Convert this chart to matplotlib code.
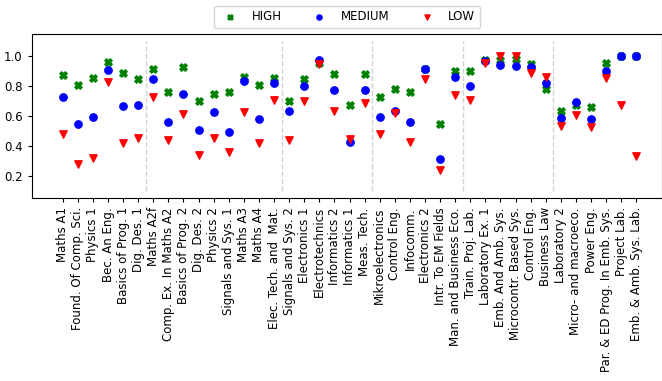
import matplotlib
matplotlib.use("Agg")
import matplotlib.pyplot as plt
import numpy as np

courses = ["Maths A1", "Found. Of Comp. Sci.", "Physics 1", "Bec. An Eng.", "Basics of Prog. 1",
           "Dig. Des. 1", "Maths A2f", "Comp. Ex. In Maths A2", "Basics of Prog. 2", "Dig. Des. 2",
           "Physics 2", "Signals and Sys. 1", "Maths A3", "Maths A4", "Elec. Tech. and  Mat.",
           "Signals and Sys. 2", "Electronics 1", "Electrotechnics", "Informatics 2", "Informatics 1",
           "Meas. Tech.", "Mikroelectronics", "Control Eng.", "Infocomm.", "Electronics 2",
           "Intr. To EM Fields", "Man. and Business Eco.", "Train. Proj. Lab.", "Laboratory Ex. 1",
           "Emb. And Amb. Sys.", "Microcontr. Based Sys.", "Control Eng.", "Business Law",
           "Laboratory 2", "Micro- and macroeco.", "Power Eng.", "Par. & ED Prog. In Emb. Sys.",
           "Project Lab.", "Emb. & Amb. Sys. Lab."]

high = [0.878, 0.805, 0.853, 0.963, 0.889, 0.847, 0.918, 0.758, 0.927, 0.698,
        0.749, 0.760, 0.862, 0.807, 0.856, 0.702, 0.845, 0.956, 0.880, 0.671,
        0.880, 0.727, 0.780, 0.760, 0.915, 0.547, 0.902, 0.902, 0.978, 0.978,
        0.982, 0.947, 0.782, 0.631, 0.676, 0.658, 0.953, 1.0, 1.0]
medium = [0.725, 0.545, 0.593, 0.907, 0.667, 0.676, 0.849, 0.562, 0.749, 0.505,
          0.625, 0.491, 0.833, 0.582, 0.818, 0.631, 0.800, 0.978, 0.773, 0.429,
          0.776, 0.593, 0.631, 0.558, 0.918, 0.309, 0.862, 0.800, 0.971, 0.940,
          0.938, 0.929, 0.818, 0.589, 0.693, 0.580, 0.902, 1.0, 1.0]
low = [0.478, 0.278, 0.316, 0.831, 0.418, 0.451, 0.729, 0.436, 0.613, 0.336,
       0.451, 0.356, 0.625, 0.422, 0.705, 0.436, 0.698, 0.949, 0.633, 0.445,
       0.685, 0.480, 0.620, 0.429, 0.845, 0.240, 0.742, 0.705, 0.958, 1.0,
       1.0, 0.889, 0.858, 0.531, 0.609, 0.524, 0.853, 0.671, 0.333]

separators = [5.5, 14.5, 20.5, 26.5, 32.5]

fs = 8.5
fig = plt.figure(figsize=(6.62, 3.81), dpi=100)
ax = fig.add_axes([0.048, 0.480, 0.952, 0.431])
x = np.arange(len(courses))
ax.scatter(x, high, marker="X", color="green", s=28, label="HIGH", zorder=3)
ax.scatter(x, medium, marker="o", color="blue", s=28, label="MEDIUM", zorder=3)
ax.scatter(x, low, marker="v", color="red", s=28, label="LOW", zorder=3)
for s in separators:
    ax.vlines(s, 0.1, 1.1, colors="lightgray", linestyles="--", linewidth=1)

ax.set_xticks(x)
ax.set_xticklabels(courses, rotation=90, fontsize=fs)
ax.set_yticks([0.2, 0.4, 0.6, 0.8, 1.0])
ax.tick_params(axis="y", labelsize=fs)
ax.tick_params(length=3)
ax.set_xlim(-2.05, 39.7)
ax.set_ylim(0.05, 1.15)
ax.legend(loc="lower center", bbox_to_anchor=(0.5, 1.0), ncol=3, fontsize=fs,
          markerscale=0.7, columnspacing=2.2)
fig.savefig("out.png", dpi=100)
